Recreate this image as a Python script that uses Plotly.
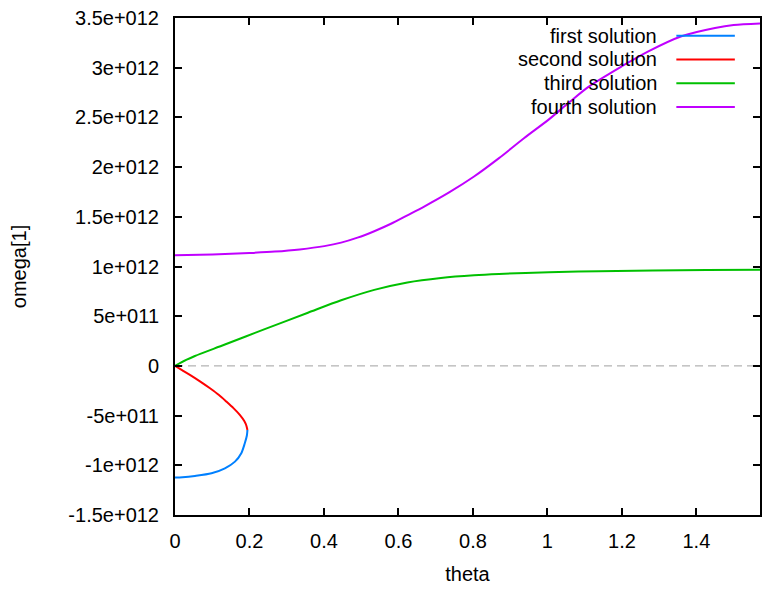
import plotly.graph_objects as go

# ---- data (omega values in units of 1e12) ----
first_theta = [0.1945, 0.193, 0.1874, 0.178, 0.161, 0.134, 0.098, 0.0535, 0.02, 0.0]
first_omega = [-0.645, -0.70, -0.778, -0.878, -0.963, -1.03, -1.08, -1.107, -1.12, -1.123]

second_theta = [0.0, 0.02, 0.04, 0.067, 0.094, 0.118, 0.138, 0.157, 0.174, 0.186, 0.1915, 0.1945]
second_omega = [0.0, -0.045, -0.09, -0.155, -0.225, -0.293, -0.359, -0.425, -0.493, -0.555, -0.60, -0.645]

third_theta = [0.0, 0.03, 0.0535, 0.134, 0.241, 0.357, 0.446, 0.535, 0.624, 0.714, 0.803, 0.870, 1.004, 1.138, 1.427, 1.5708]
third_omega = [0.0, 0.06, 0.10, 0.215, 0.37, 0.535, 0.66, 0.765, 0.84, 0.885, 0.912, 0.925, 0.943, 0.953, 0.966, 0.968]

fourth_theta = [0.0, 0.067, 0.134, 0.2, 0.268, 0.335, 0.401, 0.446, 0.49, 0.535, 0.58, 0.624, 0.669,
                0.736, 0.803, 0.870, 0.937, 1.004, 1.058, 1.111, 1.2, 1.271, 1.36, 1.45, 1.5, 1.5708]
fourth_omega = [1.114, 1.118, 1.125, 1.136, 1.150, 1.172, 1.205, 1.24, 1.29, 1.355, 1.43, 1.515, 1.603,
                1.745, 1.905, 2.09, 2.29, 2.48, 2.65, 2.81, 3.015, 3.165, 3.317, 3.40, 3.43, 3.445]

series_names = ["first solution", "second solution", "third solution", "fourth solution"]
series_colors = ["#0080ff", "#ff0000", "#00c000", "#c000ff"]

x_tick_vals = [0, 0.2, 0.4, 0.6, 0.8, 1.0, 1.2, 1.4]
x_tick_text = ["0", "0.2", "0.4", "0.6", "0.8", "1", "1.2", "1.4"]
y_tick_vals = [-1.5e12, -1e12, -5e11, 0, 5e11, 1e12, 1.5e12, 2e12, 2.5e12, 3e12, 3.5e12]
y_tick_text = ["-1.5e+012", "-1e+012", "-5e+011", "0", "5e+011", "1e+012",
               "1.5e+012", "2e+012", "2.5e+012", "3e+012", "3.5e+012"]

SCALE = 1e12
FONT = "Liberation Sans, Arial, sans-serif"
FSIZE = 20

fig = go.Figure()
data = [(first_theta, first_omega), (second_theta, second_omega),
        (third_theta, third_omega), (fourth_theta, fourth_omega)]
for (th, om), name, col in zip(data, series_names, series_colors):
    fig.add_trace(go.Scatter(x=th, y=[v * SCALE for v in om], mode="lines", name=name,
                             line=dict(color=col, width=2, shape="spline", smoothing=0.8),
                             showlegend=False))

# zero axis (dashed grey)
fig.add_shape(type="line", xref="paper", yref="y", x0=0, x1=1, y0=0, y1=0,
              line=dict(color="#a0a0a0", width=1, dash="8px,5px"), layer="below")

# gnuplot-style key: right-aligned text, line sample on its right
key_top = 0.9644
key_step = 0.0478
for i, (name, col) in enumerate(zip(series_names, series_colors)):
    yk = key_top - i * key_step
    fig.add_annotation(x=0.828, y=yk, xref="paper", yref="paper", text=name, showarrow=False,
                       xanchor="right", yanchor="middle", font=dict(family=FONT, size=FSIZE, color="black"))
    fig.add_shape(type="line", xref="paper", yref="paper", x0=0.857, x1=0.957, y0=yk, y1=yk,
                  line=dict(color=col, width=2))

axis_common = dict(showline=True, linecolor="black", linewidth=2, mirror="ticks",
                   ticks="inside", ticklen=7, tickwidth=2, tickcolor="black",
                   showgrid=False, zeroline=False,
                   tickfont=dict(family=FONT, size=FSIZE, color="black"))

fig.update_xaxes(range=[0, 1.5708], tickvals=x_tick_vals, ticktext=x_tick_text,
                 title=dict(text="theta", font=dict(family=FONT, size=FSIZE, color="black"), standoff=16),
                 ticklabelstandoff=7, **axis_common)
fig.update_yaxes(range=[-1.5e12, 3.5e12], tickvals=y_tick_vals, ticktext=y_tick_text,
                 title=dict(text="omega[1]", font=dict(family=FONT, size=FSIZE, color="black"), standoff=36),
                 ticklabelstandoff=10, **axis_common)

fig.update_layout(width=763, height=591, margin=dict(l=175, r=1, t=18, b=76),
                  plot_bgcolor="white", paper_bgcolor="white", showlegend=False)

fig.write_html("out.html")
